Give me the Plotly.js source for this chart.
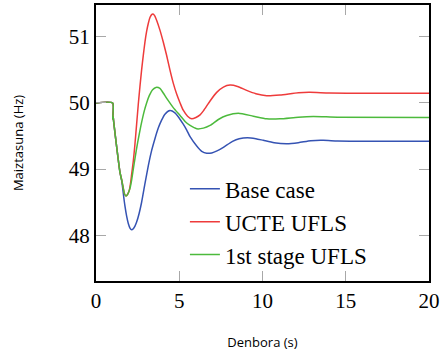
<!DOCTYPE html>
<html>
<head>
<meta charset="utf-8">
<script src="https://cdn.plot.ly/plotly-3.0.1.min.js"></script>
<style>html,body{margin:0;padding:0;background:#fff;}#chart{width:443px;height:353px;}</style>
</head>
<body>
<div id="chart"></div>
<script>
// Time (s) and frequency (Hz) samples
const tBase = [0, 1.0, 1.0, 1.03, 1.06, 1.2, 1.44, 1.54, 1.58, 1.66, 1.74, 1.84, 1.94, 2.04, 2.14, 2.24, 2.34, 2.44, 2.59, 2.74, 2.94, 3.14, 3.34, 3.54, 3.74, 3.94, 4.14, 4.44, 4.74, 5.0, 5.24, 5.45, 5.65, 6.05, 6.35, 6.65, 6.95, 7.3, 7.65, 8.2, 8.6, 9.1, 9.6, 10.05, 10.7, 11.45, 12.15, 12.9, 13.65, 14.5, 16, 18, 20];
const fBase = [50, 50, 49.76, 49.80, 49.72, 49.42, 48.95, 48.83, 48.76, 48.59, 48.44, 48.29, 48.18, 48.11, 48.085, 48.10, 48.14, 48.20, 48.33, 48.50, 48.78, 49.05, 49.28, 49.46, 49.62, 49.74, 49.83, 49.885, 49.85, 49.77, 49.68, 49.59, 49.49, 49.35, 49.27, 49.24, 49.245, 49.28, 49.33, 49.42, 49.46, 49.475, 49.46, 49.435, 49.40, 49.385, 49.40, 49.43, 49.435, 49.425, 49.42, 49.42, 49.42];

const tUcte = [0, 1.0, 1.0, 1.03, 1.06, 1.2, 1.44, 1.54, 1.64, 1.72, 1.80, 1.90, 2.0, 2.07, 2.14, 2.24, 2.34, 2.44, 2.54, 2.64, 2.74, 2.84, 2.94, 3.04, 3.14, 3.24, 3.34, 3.42, 3.52, 3.64, 3.84, 4.04, 4.24, 4.44, 4.64, 4.85, 5.05, 5.24, 5.5, 5.75, 6.0, 6.25, 6.45, 6.85, 7.25, 7.65, 8.05, 8.5, 9.05, 9.6, 10.25, 11.05, 12.15, 12.85, 14, 16, 20];
const fUcte = [50, 50, 49.76, 49.80, 49.72, 49.42, 48.95, 48.84, 48.71, 48.62, 48.595, 48.62, 48.68, 48.78, 48.92, 49.12, 49.38, 49.68, 49.98, 50.25, 50.50, 50.72, 50.92, 51.08, 51.20, 51.29, 51.335, 51.345, 51.32, 51.25, 51.10, 50.92, 50.72, 50.50, 50.30, 50.13, 50.0, 49.89, 49.80, 49.76, 49.78, 49.82, 49.88, 50.03, 50.16, 50.24, 50.27, 50.25, 50.19, 50.14, 50.11, 50.12, 50.155, 50.16, 50.15, 50.145, 50.145];

const tFirst = [0, 1.0, 1.0, 1.03, 1.06, 1.2, 1.44, 1.54, 1.64, 1.72, 1.80, 1.90, 2.04, 2.14, 2.24, 2.34, 2.5, 2.7, 2.9, 3.04, 3.2, 3.4, 3.6, 3.84, 4.04, 4.3, 4.64, 5.05, 5.35, 5.65, 6.05, 6.45, 6.85, 7.35, 7.85, 8.55, 9.45, 10.25, 11.05, 12.15, 13.05, 14.5, 20];
const fFirst = [50, 50, 49.76, 49.80, 49.72, 49.42, 48.95, 48.84, 48.71, 48.62, 48.595, 48.62, 48.71, 48.835, 49.0, 49.16, 49.40, 49.66, 49.88, 50.0, 50.11, 50.20, 50.235, 50.22, 50.15, 50.05, 49.93, 49.81, 49.72, 49.66, 49.61, 49.62, 49.66, 49.75, 49.81, 49.845, 49.80, 49.76, 49.76, 49.785, 49.795, 49.785, 49.78];

const seriesNames = ['Base case', 'UCTE UFLS', '1st stage UFLS'];
const xTicks = [0, 5, 10, 15, 20];
const yTicks = [48, 49, 50, 51];
const xTitle = 'Denbora (s)';
const yTitle = 'Maiztasuna (Hz)';

const colors = ['#3553b3', '#ee3b3b', '#4cba3c'];
const serif = '"Liberation Serif", "DejaVu Serif", serif';
const sans = '"Open Sans", "Noto Sans", sans-serif';

const traces = [[tBase, fBase], [tUcte, fUcte], [tFirst, fFirst]].map((s, i) => ({
  x: s[0], y: s[1], type: 'scatter', mode: 'lines', name: seriesNames[i],
  line: {color: colors[i], width: 1.5, shape: 'spline', smoothing: 0.6}
}));

const axisCommon = {
  showgrid: false, zeroline: false, showline: true, linecolor: '#000', linewidth: 2,
  mirror: 'ticks', ticks: 'inside', ticklen: 10, tickwidth: 1, tickcolor: '#a8a8a8',
  tickfont: {family: serif, size: 21, color: '#000'}
};

const layout = {
  width: 443, height: 353,
  margin: {l: 96, r: 14, t: 5, b: 70, pad: 0},
  paper_bgcolor: '#fff', plot_bgcolor: '#fff',
  showlegend: true,
  legend: {x: 0.267, y: 0.412, xanchor: 'left', yanchor: 'top', bgcolor: 'rgba(0,0,0,0)',
           font: {family: serif, size: 23, color: '#000'}, itemwidth: 30, tracegroupgap: 0},
  xaxis: Object.assign({}, axisCommon, {
    range: [0, 20], tickvals: xTicks, ticktext: xTicks.map(String), automargin: 'bottom',
    title: {text: xTitle, font: {family: sans, size: 13, color: '#000'}, standoff: 26}
  }),
  yaxis: Object.assign({}, axisCommon, {
    range: [47.31, 51.48], tickvals: yTicks, ticktext: yTicks.map(String), automargin: false
  }),
  annotations: [{
    text: yTitle, xref: 'paper', yref: 'paper', x: -0.234, y: 0.5,
    xanchor: 'center', yanchor: 'middle', textangle: -90, showarrow: false,
    font: {family: sans, size: 13, color: '#000'}
  }]
};

Plotly.newPlot('chart', traces, layout, {displayModeBar: false, staticPlot: true});
</script>
</body>
</html>
